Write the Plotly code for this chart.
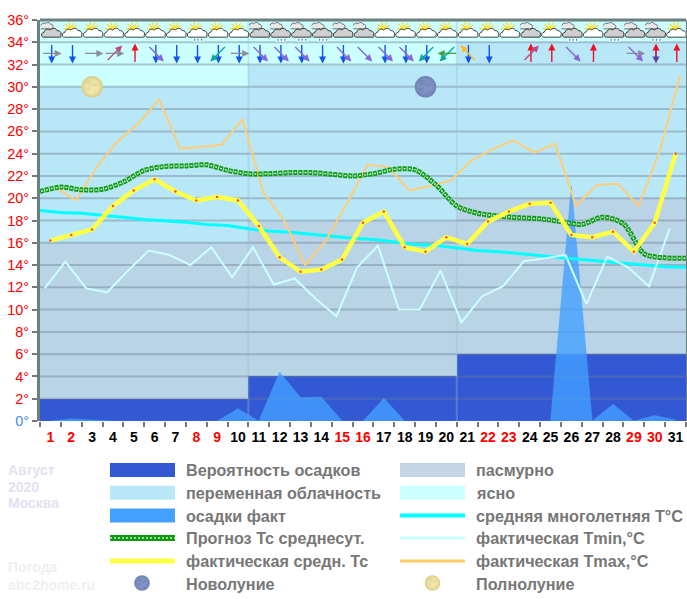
import base64
import plotly.graph_objects as go

days = list(range(1, 32))
weekend = [1, 2, 8, 9, 15, 16, 22, 23, 29, 30]
edges = [d + 0.5 for d in range(0, 32)]
temp_ticks = list(range(0, 37, 2))

# фон: вероятность осадков и облачность по декадам (стопкой)
precip_prob = [2] * 10 + [4] * 10 + [6] * 11
overcast = [14] * 31
partly = [14] * 31
clear = [6] * 10 + [4] * 10 + [2] * 11
decade_edges = [10.5, 20.5]

precip_fact = [0, 0.2, 0.1, 0, 0, 0, 0, 0, 0, 1.1, 0, 4.4, 2.1, 2.15, 0, 0, 2.05, 0, 0, 0,
               0, 0, 0, 0, 0, 21.1, 0, 1.5, 0, 0.5, 0.1]
t_climate = [18.9, 18.72, 18.65, 18.5, 18.3, 18.1, 18.0, 17.85, 17.65, 17.55, 17.25, 17.05,
             16.95, 16.75, 16.6, 16.4, 16.3, 16.05, 15.85, 15.75, 15.55, 15.3, 15.2, 15.05,
             14.85, 14.65, 14.5, 14.3, 14.15, 14.0, 13.85, 13.8]
t_forecast = [20.6, 21.0, 20.75, 20.8, 21.45, 22.5, 22.85, 22.9, 23.0, 22.5, 22.2, 22.2,
              22.3, 22.3, 22.15, 22.0, 22.2, 22.6, 22.55, 21.2, 19.3, 18.65, 18.4, 18.25,
              18.15, 17.9, 17.65, 18.3, 17.7, 15.0, 14.65, 14.6]
t_mean = [16.2, 16.7, 17.2, 19.3, 20.7, 21.7, 20.6, 19.8, 20.1, 19.8, 17.5, 14.7, 13.4, 13.6,
          14.5, 17.8, 18.8, 15.6, 15.2, 16.5, 15.9, 17.9, 18.8, 19.5, 19.6, 16.7, 16.5, 17.0,
          15.2, 17.8, 24.0]
t_max = [21.0, 19.8, 22.8, 25.1, 26.7, 28.85, 24.45, 24.6, 24.8, 27.1, 20.5, 18.0, 14.0, 16.2,
         19.5, 23.0, 22.8, 20.7, 21.1, 21.6, 23.4, 24.4, 25.2, 24.1, 24.9, 19.3, 21.2, 21.3,
         19.3, 24.1, 31.0]
t_min = [11.9, 14.3, 11.9, 11.55, 13.5, 15.3, 14.9, 14.0, 15.6, 12.9, 15.6, 12.25, 12.8, 11.0,
         9.4, 13.8, 15.75, 10.0, 10.0, 13.5, 8.85, 11.2, 12.1, 14.35, 14.6, 14.9, 10.5, 14.75,
         13.8, 12.1, 17.3]

full_moon_day = 3
new_moon_day = 19
moon_level = 30

# значки погоды: o - пасмурно, s - переменная, r - с осадками
sky = ["o", "s", "s", "s", "s", "s", "s", "sr", "s", "s", "o", "or", "or", "or", "o", "o",
       "s", "s", "s", "s", "s", "s", "s", "o", "s", "or", "s", "or", "o", "or", "s"]
wind = [["N", "W"], ["N"], ["W"], ["SW", "W"], ["S"], ["N", "NW"], ["N"], ["N"], ["N", "NE"],
        ["N", "W"], ["N", "NW"], ["N", "NW"], ["N", "NW"], ["N"], ["N", "NW"], ["NW"],
        ["N", "NW"], ["N", "NW"], ["N", "NE"], ["E", "NE"], ["N", "SE"], ["N"], [], ["S", "SW"],
        ["S"], ["NW"], ["S"], [], ["W", "NW"], ["N", "S"], ["S"]]

wind_style = {
    "N": ("#1155ee", 0, 10), "S": ("#ee1122", 0, -10), "W": ("#8c8c96", 10, 0),
    "E": ("#44a044", -10, 0), "NW": ("#8866dd", 8, 8), "SW": ("#c04a88", 8, -8),
    "NE": ("#10aa99", -8, 8), "SE": ("#ffbb22", -8, -8),
}

W, H = 687, 599
L, R, T, B = 40, 686, 20, 421
px_x = (R - L) / 31
px_y = (B - T) / 36


def xp(px):
    return (px - L) / (R - L)


def yp(py):
    return (B - py) / (B - T)


def svg_uri(body, w, h):
    svg = f'<svg xmlns="http://www.w3.org/2000/svg" viewBox="0 0 {w} {h}" width="{w * 4}" height="{h * 4}">{body}</svg>'
    return "data:image/svg+xml;base64," + base64.b64encode(svg.encode()).decode()


CLOUD = "M3 15.5C0 15.5 0 11 3.5 10.5C4 7.5 8 6.5 9.5 8.5C11 6 15.5 6 16.5 9C19.5 8.5 21.5 12 20 14C21 15 20.5 15.5 19 15.5Z"
RAIN = ('<rect x="6" y="16.5" width="11" height="3.5" fill="#ffffff" opacity="0.85"/>'
        '<path d="M8 17v2M11.5 17v2M15 17v2" stroke="#1a90e0" stroke-width="1.2"/>')


def icon(code):
    parts = ""
    if code[0] == "s":
        rays = "M6 7L2 7M6.5 4.5L3.5 2.5M8.5 3.5L7.5 0.5M11 4L12.5 1M12.5 5.5L15.5 3.5"
        parts += f'<circle cx="9" cy="7" r="3.2" fill="#ffe433"/><path d="{rays}" stroke="#ffd820" stroke-width="1.1"/>'
        parts += f'<path d="{CLOUD}" fill="#ffffff" stroke="#111111" stroke-width="0.8"/>'
    else:
        parts += f'<path d="{CLOUD}" transform="translate(-2.2,-4) scale(0.72)" fill="#e8e8e8" stroke="#333333" stroke-width="0.9"/>'
        parts += f'<path d="{CLOUD}" fill="#cfcfcf" stroke="#111111" stroke-width="0.8"/>'
    if code.endswith("r"):
        parts += RAIN
    return svg_uri(parts, 22, 20)


def moon(base, edge, spot):
    body = (f'<defs><radialGradient id="g"><stop offset="0.55" stop-color="{base}"/>'
            f'<stop offset="1" stop-color="{edge}"/></radialGradient></defs>'
            '<circle cx="11" cy="11" r="10.8" fill="url(#g)"/>'
            f'<g fill="{spot}" opacity="0.35"><ellipse cx="8" cy="7" rx="4" ry="3"/><ellipse cx="14" cy="9" rx="3" ry="2"/>'
            '<ellipse cx="7" cy="13" rx="2.5" ry="2"/><ellipse cx="14" cy="16" rx="1.5" ry="1.2"/></g>')
    return svg_uri(body, 22, 22)


full_moon = moon("#efe6a8", "#d8cc84", "#d6cb8c")
new_moon = moon("#8193c6", "#6f80b4", "#6a7aa8")

fig = go.Figure()

# фон
fig.add_bar(x=days, y=precip_prob, marker=dict(color="#3358d4", line_width=0), width=1)
fig.add_bar(x=days, y=overcast, marker=dict(color="#b8d4e6", line_width=0), width=1)
fig.add_bar(x=days, y=partly, marker=dict(color="#b8e8f8", line_width=0), width=1)
fig.add_bar(x=days, y=clear, marker=dict(color="#ccffff", line_width=0), width=1)

# сетка рисуется поверх фона, поэтому отдельной линией
grid_x, grid_y = [], []
for t in temp_ticks[1:-1]:
    grid_x += [edges[0], edges[-1], None]
    grid_y += [t, t, None]
fig.add_scatter(x=grid_x, y=grid_y, mode="lines", line=dict(color="rgba(110,125,145,0.42)", width=2))

div_x, div_y = [], []
for e in decade_edges:
    div_x += [e, e, None]
    div_y += [0, 36, None]
fig.add_scatter(x=div_x, y=div_y, mode="lines", line=dict(color="rgba(150,190,205,0.35)", width=2))

fig.add_scatter(x=days, y=precip_fact, mode="lines", fill="tozeroy", line=dict(color="rgba(68,160,255,0.75)", width=0.5),
                fillcolor="rgba(68,160,255,0.8)")
fig.add_scatter(x=edges, y=t_climate, mode="lines", line=dict(color="#00ffff", width=3))
fig.add_scatter(x=[d - 0.28 for d in days], y=t_min, mode="lines", line=dict(color="#ccffff", width=2))
fig.add_scatter(x=[d + 0.22 for d in days], y=t_max, mode="lines", line=dict(color="#ffcc77", width=2))
fig.add_scatter(x=edges, y=t_forecast, mode="lines", line=dict(color="#109a10", width=5, dash="4px,1px", shape="spline", smoothing=0.8))
fig.add_scatter(x=edges, y=t_forecast, mode="lines", line=dict(color="#c8f0d0", width=1.5, dash="0px,1px,2px,2px", shape="spline", smoothing=0.8))
fig.add_scatter(x=days, y=t_mean, mode="lines", line=dict(color="#ffff44", width=4.5))
fig.add_scatter(x=days, y=t_mean, mode="markers", marker=dict(color="#f05030", size=2.5))

images = []
for d, code in zip(days, sky):
    images.append(dict(source=icon(code), xref="x", yref="y", x=d + 0.06, y=35.85, sizex=22 / px_x, sizey=20 / px_y,
                       xanchor="center", yanchor="top", sizing="stretch", layer="above"))
for d, src in [(full_moon_day, full_moon), (new_moon_day, new_moon)]:
    images.append(dict(source=src, xref="x", yref="y", x=d, y=moon_level, sizex=22 / px_x, sizey=22 / px_y,
                       xanchor="center", yanchor="middle", sizing="stretch", layer="above"))

annotations = []
for d, arrows in zip(days, wind):
    for name in arrows:
        color, dx, dy = wind_style[name]
        annotations.append(dict(
            x=d + 0.06 + dx / px_x, y=33 - dy / px_y, xref="x", yref="y", ax=-2 * dx, ay=-2 * dy, axref="pixel", ayref="pixel",
            text="", showarrow=True, arrowhead=2, arrowsize=1, arrowwidth=1.4, arrowcolor=color,
        ))

shapes = [dict(type="line", xref="paper", yref="paper", x0=0, x1=1, y0=1, y1=1, line=dict(color="#6d8080", width=3))]

# легенда
def legend_text(px, py, text, color="#777777", size=16.2):
    annotations.append(dict(x=xp(px), y=yp(py), xref="paper", yref="paper", text=text, showarrow=False, xanchor="left", yanchor="middle",
                            font=dict(family="Liberation Sans", size=size, color=color, weight=700)))


def swatch(px, py, color, height):
    shapes.append(dict(type="rect", xref="paper", yref="paper", x0=xp(px), x1=xp(px + 65), y0=yp(py + height / 2), y1=yp(py - height / 2),
                       fillcolor=color, line_width=0))


rows = [470, 492.7, 515.5, 538, 561, 584]
col1 = [("Вероятность осадков", "#3358d4", 14), ("переменная облачность", "#b8e8f8", 14), ("осадки факт", "#44a0ff", 14),
        ("Прогноз Тс среднесут.", "#109a10", 6), ("фактическая средн. Тс", "#ffff44", 5)]
col2 = [("пасмурно", "#c4d6e6", 14), ("ясно", "#ccffff", 14), ("средняя многолетняя Т°С", "#00ffff", 4),
        ("фактическая Tmin,°C", "#ccffff", 3), ("фактическая Tmax,°C", "#ffcc66", 3)]
for i, (text, color, height) in enumerate(col1):
    swatch(110, rows[i], color, height)
    legend_text(184, rows[i], text)
for i, (text, color, height) in enumerate(col2):
    swatch(400, rows[i], color, height)
    legend_text(474, rows[i], text)
# клетки в образце прогноза
shapes.append(dict(type="line", xref="paper", yref="paper", x0=xp(110), x1=xp(175), y0=yp(rows[3]), y1=yp(rows[3]),
                   line=dict(color="#c8f0d0", width=1.5, dash="2px,2px")))
legend_text(184, rows[5], "Новолуние")
legend_text(474, rows[5], "Полнолуние")
for px, src in [(142, new_moon), (432.5, full_moon)]:
    images.append(dict(source=src, xref="paper", yref="paper", x=xp(px), y=yp(rows[5] - 1), sizex=16 / (R - L), sizey=16 / (B - T),
                       xanchor="center", yanchor="middle", sizing="stretch", layer="above"))

for text, py in [("Август", 470), ("2020", 487), ("Москва", 503)]:
    legend_text(6, py, text, color="#e2e2f2", size=14)
for text, py in [("Погода", 567), ("abc2home.ru", 585)]:
    legend_text(6, py, text, color="#f0f0f0", size=14)

day_labels = [f'<span style="color:{"#ff0000" if d in weekend else "#000000"}">{d}</span>' for d in days]
temp_labels = [f'<span style="color:{"#4488ff" if t == 0 else "#ff0000"}">{t}°</span>' for t in temp_ticks]

fig.update_layout(
    width=W, height=H,
    margin=dict(l=L, r=W - R, t=T, b=H - B, autoexpand=False),
    paper_bgcolor="white", plot_bgcolor="#b8e8f8",
    barmode="stack", bargap=0, showlegend=False,
    images=images, annotations=annotations, shapes=shapes,
)
fig.update_xaxes(
    range=[edges[0], edges[-1]], tickmode="array", tickvals=days, ticktext=day_labels,
    ticks="outside", ticklen=3, tickcolor="rgba(0,0,0,0)", tickangle=0,
    tickfont=dict(family="Liberation Sans", size=14, weight=700),
    minor=dict(ticks="outside", tick0=0.5, dtick=1, ticklen=5, tickwidth=2, tickcolor="#777777", showgrid=False),
    showgrid=False, zeroline=False, showline=False,
)
fig.update_yaxes(
    range=[0, 36], tickmode="array", tickvals=temp_ticks, ticktext=temp_labels,
    ticks="outside", ticklen=5, tickwidth=2, tickcolor="#777777",
    tickfont=dict(family="Liberation Sans", size=14.5),
    showgrid=False, zeroline=False, showline=True, mirror=True, linecolor="#6d8080", linewidth=3,
)

fig.write_html("out.html", config=dict(displayModeBar=False),
               post_script="document.body.style.margin='0';document.body.style.overflow='hidden';")
